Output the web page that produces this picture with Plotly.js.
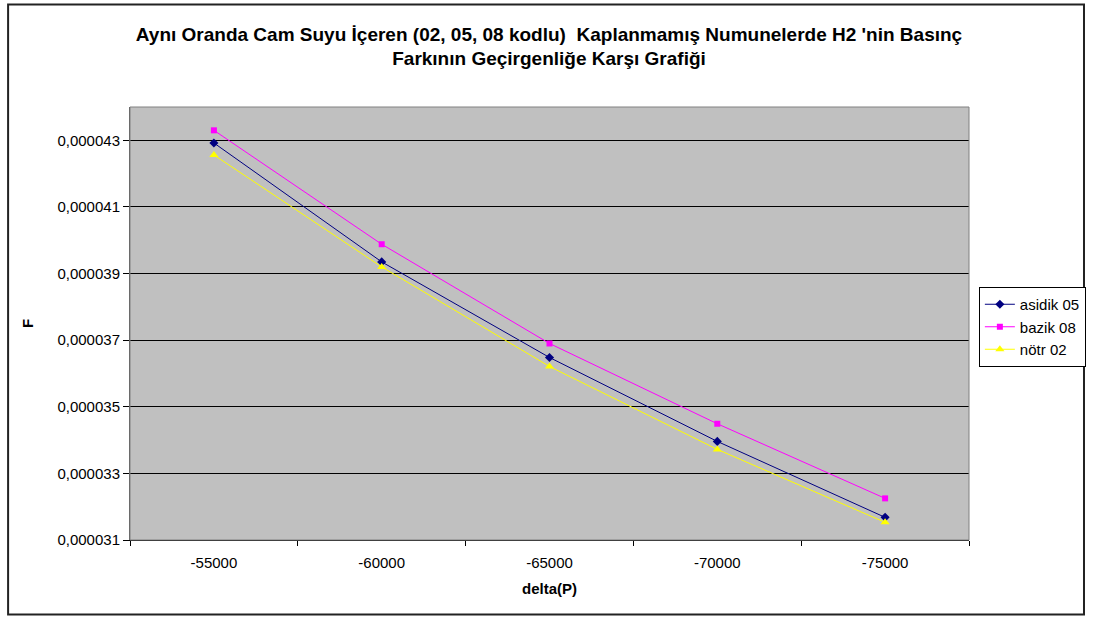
<!DOCTYPE html>
<html>
<head>
<meta charset="utf-8">
<script src="https://cdn.plot.ly/plotly-3.0.1.min.js"></script>
<style>
  html, body { margin: 0; padding: 0; background: #fff; }
  #chart { width: 1098px; height: 617px; }
</style>
</head>
<body>
<div id="chart"></div>
<script>
// Categories (x axis: delta(P))
const deltaP = ['-55000', '-60000', '-65000', '-70000', '-75000'];

// Series values (F)
const asidik05 = [0.00004292, 0.00003935, 0.00003648, 0.00003396, 0.00003168];
const bazik08  = [0.00004330, 0.00003988, 0.00003690, 0.00003449, 0.00003225];
const notr02   = [0.00004256, 0.00003920, 0.00003621, 0.00003372, 0.00003153];

// Y tick values and labels
const yTickVals = [0.000031, 0.000033, 0.000035, 0.000037, 0.000039, 0.000041, 0.000043];
const yTickText = ['0,000031', '0,000033', '0,000035', '0,000037', '0,000039', '0,000041', '0,000043'];

const FONT = 'Liberation Sans, Arial, sans-serif';

const traces = [
  {
    name: 'asidik 05', x: deltaP, y: asidik05, type: 'scatter', mode: 'lines+markers',
    line: { color: '#000080', width: 1 },
    marker: { symbol: 'diamond', size: 7, color: '#000080' }
  },
  {
    name: 'bazik 08', x: deltaP, y: bazik08, type: 'scatter', mode: 'lines+markers',
    line: { color: '#FF00FF', width: 1 },
    marker: { symbol: 'square', size: 6, color: '#FF00FF' }
  },
  {
    name: 'nötr 02', x: deltaP, y: notr02, type: 'scatter', mode: 'lines+markers',
    line: { color: '#FFFF00', width: 1 },
    marker: { symbol: 'triangle-up', size: 8, color: '#FFFF00' }
  }
];

const L = 130, R = 980, T = 107, B = 540, W = 1098, H = 617;
const px = v => (v - L) / (R - L);
const py = v => (B - v) / (B - T);

const layout = {
  width: W, height: H,
  margin: { l: L, r: W - R, t: T, b: H - B, pad: 0 },
  paper_bgcolor: '#ffffff',
  plot_bgcolor: '#C0C0C0',
  font: { family: FONT, color: '#000', size: 15 },
  title: {
    text: 'Aynı Oranda Cam Suyu İçeren (02, 05, 08 kodlu)  Kaplanmamış Numunelerde H2 \'nin Basınç<br>Farkının Geçirgenliğe Karşı Grafiği',
    font: { family: FONT, size: 19, color: '#000', weight: 'bold' },
    x: 0.5, xref: 'container', xanchor: 'center',
    y: 1 - 40.5 / H, yref: 'container', yanchor: 'middle'
  },
  showlegend: true,
  legend: {
    x: px(990), y: py(287), xanchor: 'left', yanchor: 'top',
    bgcolor: '#ffffff', bordercolor: '#000', borderwidth: 1,
    font: { family: FONT, size: 15, color: '#000' },
    tracegroupgap: 0
  },
  xaxis: {
    type: 'category',
    range: [-0.5, 4.5],
    tickson: 'boundaries',
    ticks: 'outside', ticklen: 5, tickcolor: '#000', tickwidth: 1,
    ticklabelstandoff: 9,
    showgrid: false, zeroline: false,
    showline: true, linecolor: '#000', linewidth: 1,
    tickfont: { family: FONT, size: 15, color: '#000' },
    title: { text: 'delta(P)', font: { family: FONT, size: 15, color: '#000', weight: 'bold' }, standoff: 13 },
    fixedrange: true
  },
  yaxis: {
    range: [0.000031, 0.000044],
    tickmode: 'array', tickvals: yTickVals, ticktext: yTickText,
    ticks: 'outside', ticklen: 6, tickcolor: '#000', tickwidth: 1,
    showgrid: true, gridcolor: '#000', gridwidth: 1,
    zeroline: false,
    showline: true, linecolor: '#555', linewidth: 1,
    tickfont: { family: FONT, size: 15, color: '#000' },
    title: { text: 'F', font: { family: FONT, size: 15, color: '#000', weight: 'bold' }, standoff: 20 },
    fixedrange: true
  },
  shapes: [
    { type: 'rect', xref: 'paper', yref: 'paper', x0: 0, x1: 1, y0: 0, y1: 1,
      line: { color: '#808080', width: 1 }, fillcolor: 'rgba(0,0,0,0)', layer: 'above' },
    { type: 'rect', xref: 'paper', yref: 'paper',
      x0: px(6.5), x1: px(1096.5), y0: py(614.5), y1: py(4.5),
      line: { color: '#222', width: 2 }, fillcolor: 'rgba(0,0,0,0)', layer: 'above' }
  ]
};

Plotly.newPlot('chart', traces, layout, { staticPlot: true, displayModeBar: false });
</script>
</body>
</html>
